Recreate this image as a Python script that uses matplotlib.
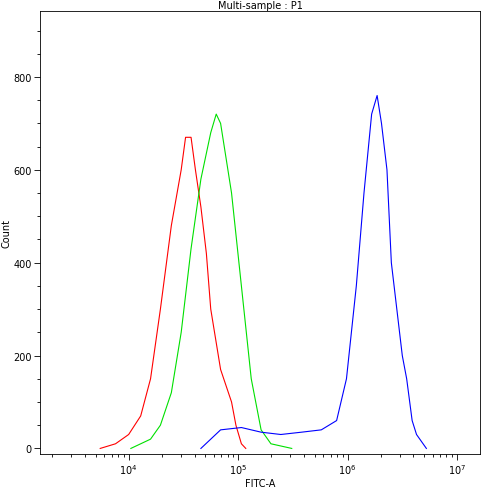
import numpy as np
import matplotlib.pyplot as plt
from matplotlib.ticker import LogLocator, MultipleLocator, NullFormatter

# log10(FITC-A) positions and counts
red_x = [3.74, 3.88, 4.00, 4.11, 4.20, 4.29, 4.39, 4.48, 4.52, 4.57, 4.61, 4.66, 4.71, 4.75, 4.84, 4.94, 4.98, 5.03, 5.07]
red_y = [0, 10, 30, 70, 150, 300, 480, 600, 670, 670, 600, 520, 420, 300, 170, 100, 50, 10, 0]

green_x = [4.02, 4.20, 4.29, 4.39, 4.48, 4.57, 4.66, 4.75, 4.80, 4.84, 4.94, 5.03, 5.12, 5.21, 5.30, 5.49]
green_y = [0, 20, 50, 120, 250, 430, 580, 680, 720, 700, 550, 350, 150, 40, 10, 0]

blue_x = [4.66, 4.75, 4.84, 5.03, 5.21, 5.39, 5.58, 5.76, 5.90, 5.99, 6.08, 6.15, 6.22, 6.27, 6.31, 6.36, 6.40, 6.50, 6.54, 6.59, 6.63, 6.72]
blue_y = [0, 20, 40, 45, 35, 30, 35, 40, 60, 150, 350, 550, 720, 760, 700, 600, 400, 200, 150, 60, 30, 0]

fig = plt.figure(figsize=(4.88, 4.89), dpi=100)
ax = fig.add_axes([40 / 488, 1 - 455 / 489, 440 / 488, 443 / 489])

ax.plot(10 ** np.array(red_x), red_y, color='red', lw=0.8)
ax.plot(10 ** np.array(green_x), green_y, color='#00e000', lw=0.8)
ax.plot(10 ** np.array(blue_x), blue_y, color='blue', lw=0.8)

ax.set_xscale('log')
ax.set_xlim(10 ** 3.19, 10 ** 7.21)
ax.set_ylim(-12, 942)
ax.xaxis.set_major_locator(LogLocator(base=10, numticks=10))
ax.xaxis.set_minor_locator(LogLocator(base=10, subs=np.arange(2, 10), numticks=20))
ax.xaxis.set_minor_formatter(NullFormatter())
ax.yaxis.set_major_locator(MultipleLocator(200))
ax.yaxis.set_minor_locator(MultipleLocator(50))
ax.tick_params(labelsize=7, length=4, width=0.6, pad=2)
ax.tick_params(which='minor', length=2, width=0.6)
for s in ax.spines.values():
    s.set_linewidth(0.6)
ax.set_xlabel('FITC-A', fontsize=7)
ax.set_ylabel('Count', fontsize=7)
ax.xaxis.set_label_coords(0.5, -0.055)
ax.yaxis.set_label_coords(-0.065, 0.5)
ax.set_title('Multi-sample : P1', fontsize=7, pad=2)

fig.savefig('out.png', dpi=100)
